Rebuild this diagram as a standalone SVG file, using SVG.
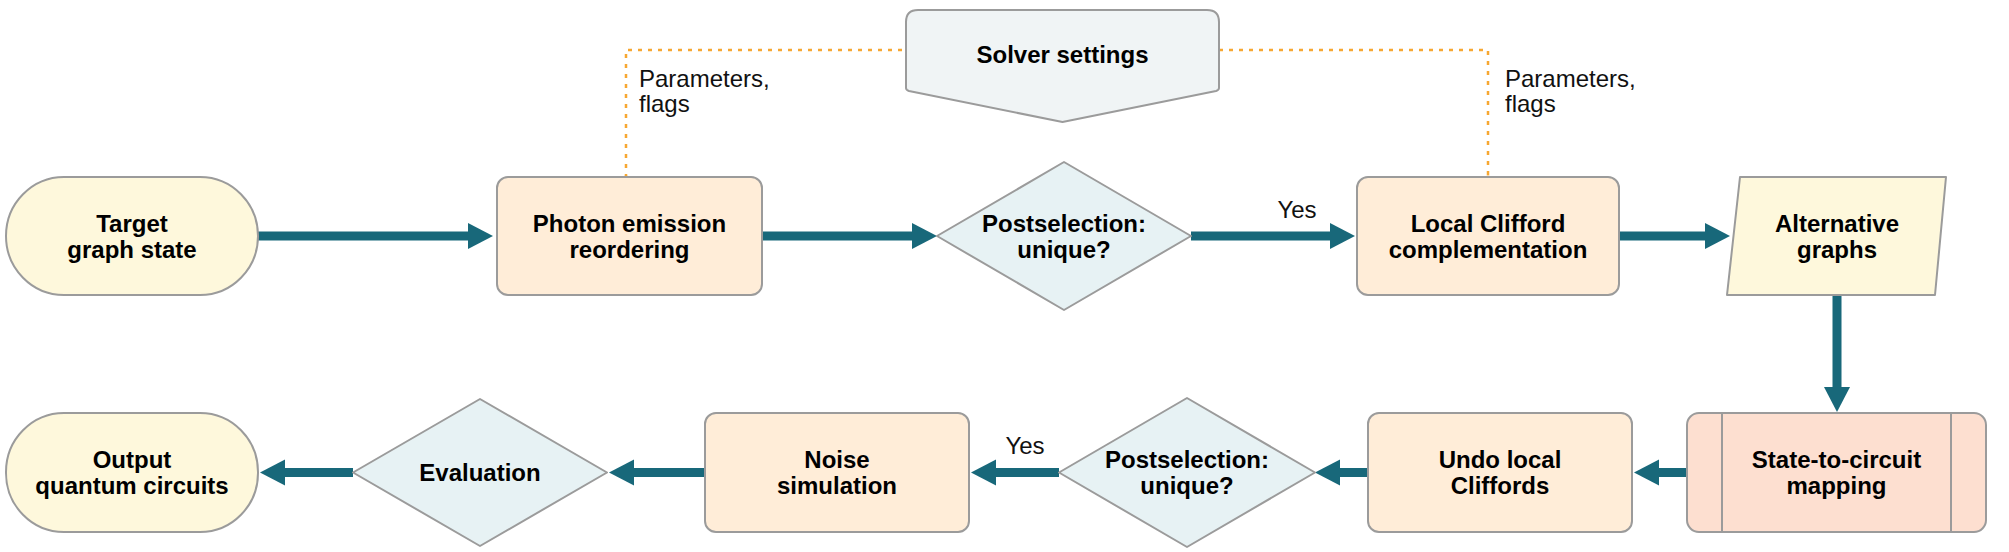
<svg xmlns="http://www.w3.org/2000/svg" width="2009" height="552" viewBox="0 0 2009 552">
<style>
.node{stroke:#9b9b9b;stroke-width:2;stroke-linejoin:round}
.term{fill:#fef8dc}
.proc{fill:#ffedd8}
.dec{fill:#e7f2f4}
.sol{fill:#f0f4f5}
.sub{fill:#fddfd0}
.t{font-family:"Liberation Sans",Arial,sans-serif;font-size:24px;font-weight:bold;fill:#000;text-anchor:middle}
.l{font-family:"Liberation Sans",Arial,sans-serif;font-size:24px;fill:#111}
.flow{stroke:#18687a;stroke-width:9;fill:none}
.ctl{stroke:#f7a731;stroke-width:2.5;fill:none;stroke-dasharray:4 6}
</style>
<defs>
<marker id="ah" markerUnits="userSpaceOnUse" markerWidth="30" markerHeight="30" viewBox="0 -15 26 30" refX="1" refY="0" orient="auto">
<path d="M0,-13 L25,0 L0,13 Z" fill="#18687a"/>
</marker>
</defs>

<g id="connectors">
<line class="flow" x1="258" y1="236" x2="469" y2="236" marker-end="url(#ah)"/>
<line class="flow" x1="762" y1="236" x2="913" y2="236" marker-end="url(#ah)"/>
<line class="flow" x1="1191" y1="236" x2="1331" y2="236" marker-end="url(#ah)"/>
<line class="flow" x1="1619" y1="236" x2="1706" y2="236" marker-end="url(#ah)"/>
<line class="flow" x1="1837" y1="295" x2="1837" y2="388" marker-end="url(#ah)"/>
<line class="flow" x1="1687" y1="472.5" x2="1658" y2="472.5" marker-end="url(#ah)"/>
<line class="flow" x1="1368" y1="472.5" x2="1339" y2="472.5" marker-end="url(#ah)"/>
<line class="flow" x1="1059" y1="472.5" x2="995" y2="472.5" marker-end="url(#ah)"/>
<line class="flow" x1="705" y1="472.5" x2="633" y2="472.5" marker-end="url(#ah)"/>
<line class="flow" x1="353" y1="472.5" x2="284" y2="472.5" marker-end="url(#ah)"/>
<path class="ctl" d="M626,178 V50 H906"/>
<path class="ctl" d="M1219,50 H1488 V178"/>
<circle cx="626" cy="178.5" r="3" fill="#f7a731"/>
<circle cx="1488" cy="178.5" r="3" fill="#f7a731"/>
<text class="l" x="639" y="87">Parameters,</text>
<text class="l" x="639" y="112">flags</text>
<text class="l" x="1505" y="87">Parameters,</text>
<text class="l" x="1505" y="112">flags</text>
<text class="l" x="1297" y="218" text-anchor="middle">Yes</text>
<text class="l" x="1025" y="454" text-anchor="middle">Yes</text>
</g>

<g id="target">
<rect class="node term" x="6" y="177" width="252" height="118" rx="58" ry="59"/>
<text class="t" x="132" y="232">Target</text>
<text class="t" x="132" y="258">graph state</text>
</g>

<g id="photon">
<rect class="node proc" x="497" y="177" width="265" height="118" rx="11"/>
<text class="t" x="629.5" y="232">Photon emission</text>
<text class="t" x="629.5" y="258">reordering</text>
</g>

<g id="solver">
<path class="node sol" d="M918,10 H1207 Q1219,10 1219,22 V88 Q1219,90 1216,91 L1062.5,122 L909,91 Q906,90 906,88 V22 Q906,10 918,10 Z"/>
<text class="t" x="1062.5" y="63">Solver settings</text>
</g>

<g id="post1">
<polygon class="node dec" points="937,236 1064,162 1191,236 1064,310"/>
<text class="t" x="1064" y="232">Postselection:</text>
<text class="t" x="1064" y="258">unique?</text>
</g>

<g id="lcc">
<rect class="node proc" x="1357" y="177" width="262" height="118" rx="11"/>
<text class="t" x="1488" y="232">Local Clifford</text>
<text class="t" x="1488" y="258">complementation</text>
</g>

<g id="alt">
<polygon class="node term" points="1740,177 1946,177 1935,295 1727,295"/>
<text class="t" x="1837" y="232">Alternative</text>
<text class="t" x="1837" y="258">graphs</text>
</g>

<g id="s2c">
<rect class="node sub" x="1687" y="413" width="299" height="119" rx="12"/>
<line class="node" x1="1722" y1="413" x2="1722" y2="532"/>
<line class="node" x1="1951" y1="413" x2="1951" y2="532"/>
<text class="t" x="1836.5" y="468">State-to-circuit</text>
<text class="t" x="1836.5" y="494">mapping</text>
</g>

<g id="undo">
<rect class="node proc" x="1368" y="413" width="264" height="119" rx="11"/>
<text class="t" x="1500" y="468">Undo local</text>
<text class="t" x="1500" y="494">Cliffords</text>
</g>

<g id="post2">
<polygon class="node dec" points="1059,472.5 1187,398 1315,472.5 1187,547"/>
<text class="t" x="1187" y="468">Postselection:</text>
<text class="t" x="1187" y="494">unique?</text>
</g>

<g id="noise">
<rect class="node proc" x="705" y="413" width="264" height="119" rx="11"/>
<text class="t" x="837" y="468">Noise</text>
<text class="t" x="837" y="494">simulation</text>
</g>

<g id="eval">
<polygon class="node dec" points="353,472.5 480,399 607,472.5 480,546"/>
<text class="t" x="480" y="481">Evaluation</text>
</g>

<g id="output">
<rect class="node term" x="6" y="413" width="252" height="119" rx="58" ry="59"/>
<text class="t" x="132" y="468">Output</text>
<text class="t" x="132" y="494">quantum circuits</text>
</g>
</svg>
